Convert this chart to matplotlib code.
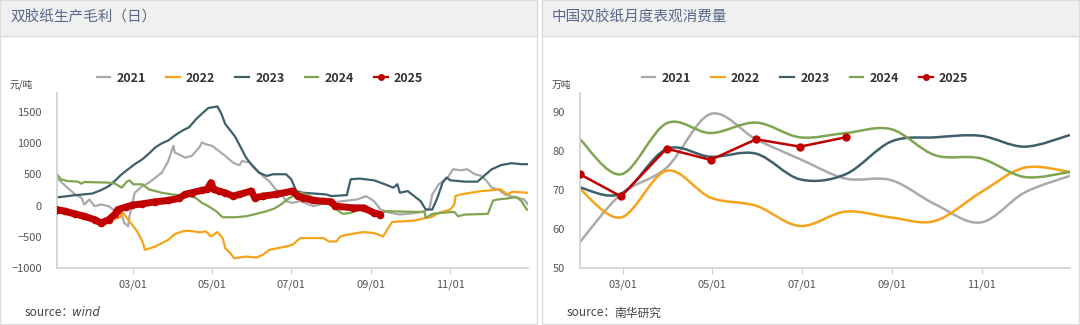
import numpy as np
import pandas as pd
import matplotlib
matplotlib.use("Agg")
import matplotlib.pyplot as plt
import matplotlib.dates as mdates
from matplotlib.path import Path
from matplotlib.patches import PathPatch, Rectangle
from matplotlib.lines import Line2D

plt.rcParams['font.family'] = ['Noto Sans CJK SC', 'DejaVu Sans']

# ---- left: daily gross margin, day-of-year knots (元/吨)
d21 = [0, 8, 14, 19, 21, 25, 29, 34, 40, 45, 50, 52, 55, 56, 59, 60, 66, 71, 76, 81,
       86, 89, 90, 91, 94, 99, 104, 110, 112, 115, 120, 125, 130, 136, 141, 143, 149, 154, 159, 164,
       169, 172, 177, 182, 188, 198, 203, 211, 221, 232, 239, 245, 250, 258, 265, 278, 284, 288, 290, 295,
       302, 306, 312, 317, 323, 328, 332, 336, 341, 346, 351, 356, 361, 364]
v21 = [440, 285, 177, 123, 16, 96, -11, 16, -11, -91, -145, -278, -333, -172, 100, 204, 310, 365, 445, 525,
       712, 900, 954, 847, 820, 766, 793, 928, 1008, 980, 954, 873, 793, 686, 643, 712, 686, 579, 471, 391,
       257, 231, 70, 43, 70, -11, 16, 43, 70, 97, 150, 70, -65, -118, -145, -118, -91, -38, 177, 339,
       446, 580, 564, 580, 500, 473, 392, 285, 258, 177, 150, 124, 97, 16]

d22 = [0, 8, 16, 24, 32, 37, 42, 49, 51, 54, 58, 62, 66, 68, 76, 81, 86, 91, 97, 102,
       110, 115, 119, 124, 128, 130, 134, 137, 146, 154, 159, 164, 177, 182, 188, 206, 210, 216, 219, 224,
       237, 245, 252, 256, 259, 276, 285, 289, 295, 304, 307, 308, 312, 328, 343, 348, 352, 364]
v22 = [-91, -145, -188, -226, -280, -306, -226, -190, -118, -200, -306, -414, -575, -710, -656, -602, -548, -457, -414, -403,
       -430, -414, -495, -425, -521, -683, -763, -844, -817, -833, -790, -710, -656, -629, -521, -521, -575, -575, -495, -468,
       -425, -441, -495, -360, -263, -242, -199, -188, -118, -65, 16, 150, 177, 231, 258, 177, 220, 204]

d23 = [0, 14, 27, 34, 40, 45, 50, 55, 60, 66, 71, 76, 81, 86, 91, 97, 102, 107, 112, 117,
       124, 127, 130, 134, 138, 142, 146, 151, 156, 162, 167, 177, 181, 185, 190, 201, 208, 212, 224, 227,
       234, 245, 252, 260, 263, 265, 271, 276, 281, 285, 290, 294, 298, 301, 304, 315, 325, 330, 336, 343,
       351, 359, 364]
v23 = [130, 165, 190, 245, 310, 400, 500, 580, 660, 740, 830, 930, 995, 1040, 1120, 1200, 1250, 1370, 1470, 1560,
       1585, 1470, 1305, 1200, 1090, 930, 770, 635, 527, 473, 500, 500, 420, 231, 204, 188, 177, 150, 167, 420,
       430, 403, 350, 285, 340, 204, 231, 150, 70, -65, -65, 124, 366, 446, 403, 382, 382, 473, 580, 645,
       677, 661, 661]

d24 = [0, 3, 8, 16, 19, 21, 40, 45, 50, 54, 56, 59, 66, 71, 76, 81, 89, 102, 107, 112,
       117, 123, 128, 138, 146, 154, 162, 168, 173, 178, 184, 188, 193, 198, 206, 211, 216, 221, 227, 234,
       242, 247, 255, 276, 284, 285, 290, 297, 307, 310, 315, 333, 337, 341, 348, 355, 359, 363, 364]
v24 = [500, 419, 392, 382, 349, 376, 366, 349, 285, 382, 403, 339, 339, 258, 231, 204, 177, 150, 124, 43,
       -11, -91, -188, -188, -172, -134, -91, -48, 16, 97, 177, 204, 177, 124, 81, 16, -65, -134, -118, -65,
       -65, -134, -91, -102, -102, -199, -134, -118, -102, -172, -145, -134, 81, 97, 113, 134, 70, -65, -65]

d25 = [0, 6, 14, 21, 29, 34, 40, 45, 47, 53, 58, 66, 76, 86, 94, 99, 104, 112, 116, 119,
       121, 125, 130, 136, 141, 150, 153, 159, 169, 182, 186, 190, 198, 212, 215, 229, 237, 245, 250]
v25 = [-65, -91, -134, -172, -226, -280, -226, -134, -65, -27, 5, 27, 59, 81, 113, 177, 204, 242, 258, 366,
       258, 231, 204, 150, 177, 231, 124, 150, 177, 231, 150, 124, 81, 59, -11, -38, -38, -118, -145]

# ---- right: monthly apparent consumption (万吨), Jan..Dec
m21 = [56.7, 69.0, 75.8, 89.6, 83.1, 78.0, 73.0, 72.6, 66.4, 61.7, 69.4, 73.7]
m22 = [70.3, 63.0, 75.0, 68.1, 66.0, 60.8, 64.5, 63.0, 62.1, 69.4, 75.8, 74.7]
m23 = [70.7, 69.1, 80.6, 78.6, 79.4, 72.8, 74.1, 82.5, 83.6, 84.0, 81.2, 84.2]
m24 = [83.1, 74.1, 87.2, 84.7, 87.4, 83.6, 84.7, 85.7, 79.0, 78.2, 73.4, 74.7]
m25 = [74.1, 68.4, 80.7, 77.8, 83.1, 81.2, 83.6]

years = ["2021", "2022", "2023", "2024", "2025"]
colors = ["#aaaaaa", "#f5a31a", "#3f5f6b", "#7fa550", "#c00000"]

start = pd.Timestamp("2025-01-01")
months = pd.date_range("2025-01-31", periods=12, freq="ME")


def smooth_patch(xs, ys, color):
    pts = np.column_stack([xs, ys])
    n = len(pts)
    verts = [pts[0]]
    codes = [Path.MOVETO]
    for i in range(n - 1):
        p0 = pts[max(i - 1, 0)]
        p1 = pts[i]
        p2 = pts[i + 1]
        p3 = pts[min(i + 2, n - 1)]
        verts += [p1 + (p2 - p0) / 6, p2 - (p3 - p1) / 6, p2]
        codes += [Path.CURVE4] * 3
    return PathPatch(Path(verts, codes), fill=False, edgecolor=color, lw=1.8)


fig = plt.figure(figsize=(10.8, 3.25), dpi=100)

# panel frames and header bands
for x0 in [0.0, 542 / 1080]:
    w = 538 / 1080
    fig.patches.append(Rectangle((x0, 0.002), w - 0.001, 0.996, transform=fig.transFigure,
                                 facecolor="white", edgecolor="#dddddd", lw=1, zorder=-2))
    fig.patches.append(Rectangle((x0, 1 - 36 / 325), w - 0.001, 36 / 325, transform=fig.transFigure,
                                 facecolor="#f0f0f0", edgecolor="#dddddd", lw=1, zorder=-1))

fig.text(10 / 1080, 1 - 18 / 325, "双胶纸生产毛利（日）", fontsize=10.5, color="#56698a", va="center")
fig.text(552 / 1080, 1 - 18 / 325, "中国双胶纸月度表观消费量", fontsize=10.5, color="#56698a", va="center")
fig.text(10 / 1080, 1 - 85 / 325, "元/吨", fontsize=7, color="#444444", va="center")
fig.text(552 / 1080, 1 - 85 / 325, "万吨", fontsize=7, color="#444444", va="center")

fig.text(25 / 1080, 1 - 313 / 325, "source：", fontsize=8.5, color="#444444", va="center")
fig.text(72 / 1080, 1 - 313 / 325, "wind", fontsize=8.5, color="#444444", va="center",
         style="italic", family="DejaVu Sans")
fig.text(567 / 1080, 1 - 313 / 325, "source：", fontsize=8.5, color="#444444", va="center")
fig.text(614 / 1080, 1 - 313 / 325, "南华研究", fontsize=8.5, color="#444444", va="center")

ax1 = fig.add_axes([57 / 1080, 57 / 325, 471 / 1080, 175 / 325])
ax2 = fig.add_axes([580 / 1080, 57 / 325, 490 / 1080, 175 / 325])

# left chart
for days, vals, c in [(d21, v21, colors[0]), (d22, v22, colors[1]), (d23, v23, colors[2]), (d24, v24, colors[3])]:
    dates = start + pd.to_timedelta(days, unit="D")
    ax1.plot(dates, vals, color=c, lw=1.6)
dates25 = start + pd.to_timedelta(d25, unit="D")
ax1.plot(dates25, v25, color=colors[4], lw=5, marker="o", ms=4.5, solid_capstyle="round", zorder=5)

ax1.set_ylim(-1000, 1800)
ax1.set_yticks([-1000, -500, 0, 500, 1000, 1500])
ax1.set_xlim(pd.Timestamp("2025-01-01"), pd.Timestamp("2025-12-31"))

# right chart
ax2.plot(months[:len(m25)], m25, color=colors[4], lw=1.8, marker="o", ms=5, zorder=5)
mx = mdates.date2num(months)
for vals, c in zip([m21, m22, m23, m24], colors[:4]):
    ax2.add_patch(smooth_patch(mx, vals, c))
ax2.set_ylim(50, 95)
ax2.set_yticks([50, 60, 70, 80, 90])
ax2.set_xlim(months[0], months[-1])

for ax in [ax1, ax2]:
    ax.xaxis.set_major_locator(mdates.MonthLocator(bymonth=[3, 5, 7, 9, 11]))
    ax.xaxis.set_major_formatter(mdates.DateFormatter("%m/%d"))
    for s in ["top", "right"]:
        ax.spines[s].set_visible(False)
    for s in ["left", "bottom"]:
        ax.spines[s].set_color("#d0d0d0")
        ax.spines[s].set_linewidth(1.2)
    ax.tick_params(axis="y", length=0, pad=11, labelsize=8, labelcolor="#555555")
    ax.tick_params(axis="x", length=4, color="#d0d0d0", pad=4, labelsize=8, labelcolor="#555555")
    ax.set_facecolor("none")

handles = [Line2D([], [], color=c, lw=1.6) for c in colors[:4]]
handles.append(Line2D([], [], color=colors[4], lw=1.6, marker="o", ms=4))
for ax, cx in [(ax1, 260 / 1080), (ax2, 805 / 1080)]:
    ax.legend(handles, years, loc="center", bbox_to_anchor=(cx, 1 - 78 / 325), bbox_transform=fig.transFigure,
              ncol=5, frameon=False, handlelength=1.1, handletextpad=0.5, columnspacing=1.6,
              prop={"size": 9, "weight": "bold"}, labelcolor="#333333")

fig.savefig("out.png", dpi=100)
